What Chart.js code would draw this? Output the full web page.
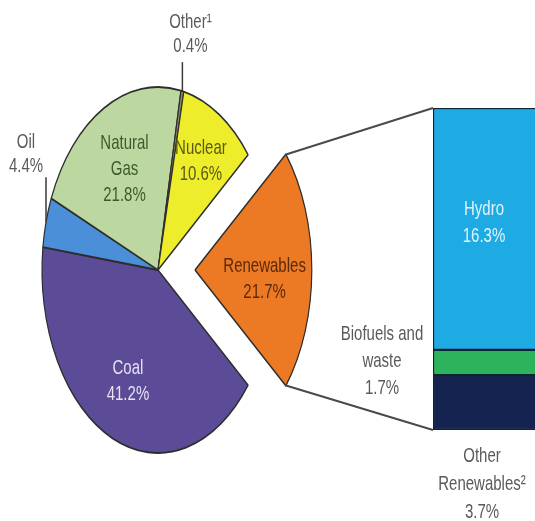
<!DOCTYPE html>
<html>
<head>
<meta charset="utf-8">
<script src="https://cdn.jsdelivr.net/npm/chart.js@4.4.1/dist/chart.umd.min.js"></script>
<style>
  html, body { margin: 0; padding: 0; background: #fff; overflow: hidden; }
  #wrap { position: relative; width: 535px; height: 521px; }
  #wrap canvas { position: absolute; left: 0; top: 0; }
</style>
</head>
<body>
<div id="wrap">
  <canvas id="barChart" width="535" height="521"></canvas>
  <canvas id="pieChart" width="535" height="521"></canvas>
</div>
<script>
  // pie slices, listed clockwise starting at the exploded one
  const sliceNames = [['Renewables'], ['Coal'], ['Oil'], ['Natural', 'Gas'], ['Other¹'], ['Nuclear']];
  const sliceValues = [21.7, 41.2, 4.4, 21.8, 0.4, 10.6];
  const sliceColors = ['#ec7a24', '#5c4b96', '#4b8fd8', '#bcd79f', '#8a8a60', '#eded2c'];
  const sliceTextColors = ['#5a2a0c', '#e6e2f4', '#5a5a5a', '#3d5a2c', '#5a5a5a', '#5a5a10'];

  // breakdown of renewables, bottom to top
  const renewNames = [['Other', 'Renewables²'], ['Biofuels and', 'waste'], ['Hydro']];
  const renewValues = [3.7, 1.7, 16.3];
  const renewColors = ['#14234f', '#2cb35c', '#1eaae2'];

  const STRETCH = 183 / 116;   // pie is drawn as a tall ellipse
  const TEXT_STRETCH = 1.4;    // text is tall and narrow too
  const FONT = '15px "Liberation Sans", Arial, sans-serif';
  const EXPLODE = 37;          // px the renewables slice is pulled out

  const pct = v => v.toFixed(1) + '%';

  function drawLines(ctx, lines, x, yc, color, lh) {
    const y0 = yc - (lines.length - 1) * lh / 2;
    lines.forEach((t, i) => {
      ctx.save();
      ctx.translate(x, y0 + i * lh);
      ctx.scale(1, TEXT_STRETCH);
      ctx.font = FONT;
      ctx.fillStyle = color;
      ctx.textAlign = 'center';
      ctx.textBaseline = 'middle';
      ctx.fillText(t, 0, 0);
      ctx.restore();
    });
  }

  function line(ctx, x1, y1, x2, y2, color, w) {
    ctx.save();
    ctx.strokeStyle = color;
    ctx.lineWidth = w;
    ctx.beginPath();
    ctx.moveTo(x1, y1);
    ctx.lineTo(x2, y2);
    ctx.stroke();
    ctx.restore();
  }

  // ---------- stacked bar on the right ----------
  const barLabels = {
    id: 'barLabels',
    afterDraw(chart) {
      const ctx = chart.ctx;
      const els = chart.data.datasets.map((d, i) => chart.getDatasetMeta(i).data[0]);
      const left = els[0].x - els[0].width / 2;
      // hydro inside the bar
      const h = els[2];
      drawLines(ctx, renewNames[2].concat(pct(renewValues[2])), h.x, (h.y + h.base) / 2 - 6, '#e2f3fc', 27);
      // biofuels to the left
      const b = els[1];
      drawLines(ctx, renewNames[1].concat(pct(renewValues[1])), left - 51, (b.y + b.base) / 2 - 1, '#5a5a5a', 27);
      // other renewables below
      const o = els[0];
      drawLines(ctx, renewNames[0].concat(pct(renewValues[0])), o.x - 2, o.base + 54, '#5a5a5a', 28);
    }
  };

  const barChart = new Chart(document.getElementById('barChart'), {
    type: 'bar',
    data: {
      labels: ['Renewables'],
      datasets: renewValues.map((v, i) => ({
        label: renewNames[i].join(' '),
        data: [v],
        backgroundColor: renewColors[i],
        borderColor: '#0c2430',
        borderWidth: { top: 1.5, left: 1.5, bottom: 1.5, right: 0 },
        borderSkipped: false,
        barPercentage: 1,
        categoryPercentage: 1
      }))
    },
    options: {
      responsive: false,
      animation: false,
      layout: { padding: { left: 433, top: 108, right: 0, bottom: 91 } },
      plugins: { legend: { display: false }, tooltip: { enabled: false } },
      scales: {
        x: { display: false, stacked: true },
        y: { display: false, stacked: true, min: 0, max: renewValues.reduce((a, b) => a + b, 0) }
      }
    },
    plugins: [barLabels]
  });

  // ---------- pie on the left ----------
  const total = sliceValues.reduce((a, b) => a + b, 0);
  const rotation = 90 - sliceValues[0] / total * 180;   // centre the exploded slice on the right
  const labelRadius = [0.6, 0.66, null, 0.62, null, 0.7];
  const labelNudge = [9, 0, 0, 0, 0, 0];
  const outside = { 2: { len: 45, dx: -20, gap: 23 }, 4: { len: 29, dx: 8, gap: 28 } };

  // ArcElement moves a slice by offset / 4
  const shift = arc => (arc.options.offset || 0) / 4;

  const ellipse = {
    id: 'ellipse',
    beforeDatasetsDraw(chart) {
      const cy = chart.getDatasetMeta(0).data[0].y;
      chart.ctx.save();
      chart.ctx.translate(0, cy);
      chart.ctx.scale(1, STRETCH);
      chart.ctx.translate(0, -cy);
    },
    afterDatasetsDraw(chart) {
      chart.ctx.restore();
    },
    afterDraw(chart) {
      const ctx = chart.ctx;
      const arcs = chart.getDatasetMeta(0).data;
      arcs.forEach((arc, i) => {
        const { x, y, startAngle, endAngle, outerRadius } =
          arc.getProps(['x', 'y', 'startAngle', 'endAngle', 'outerRadius'], true);
        const mid = (startAngle + endAngle) / 2;
        const off = shift(arc);
        const ox = x + Math.cos(mid) * off;
        const oy = y + Math.sin(mid) * off * STRETCH;
        const lines = sliceNames[i].concat(pct(sliceValues[i]));
        if (labelRadius[i] != null) {
          const f = labelRadius[i] * outerRadius;
          drawLines(ctx, lines, ox + Math.cos(mid) * f,
            oy + Math.sin(mid) * f * STRETCH + labelNudge[i], sliceTextColors[i], 26);
        } else {
          const o = outside[i];
          const ex = ox + Math.cos(mid) * outerRadius;
          const ey = oy + Math.sin(mid) * outerRadius * STRETCH;
          line(ctx, ex, ey, ex, ey - o.len, '#3a3a3a', 1.5);
          drawLines(ctx, lines, ex + o.dx, ey - o.len - o.gap, sliceTextColors[i], 24);
        }
      });

      // connectors from the exploded slice to the bar
      const ren = arcs[0];
      const mid = (ren.startAngle + ren.endAngle) / 2;
      const cx = ren.x + Math.cos(mid) * shift(ren);
      const r = ren.outerRadius;
      const bars = barChart.data.datasets.map((d, i) => barChart.getDatasetMeta(i).data[0]);
      const top = bars[bars.length - 1];
      const bottom = bars[0];
      const left = top.x - top.width / 2;
      line(ctx, cx + Math.cos(ren.startAngle) * r, ren.y + Math.sin(ren.startAngle) * r * STRETCH,
        left, top.y, '#4a4a4a', 2);
      line(ctx, cx + Math.cos(ren.endAngle) * r, ren.y + Math.sin(ren.endAngle) * r * STRETCH,
        left, bottom.base, '#4a4a4a', 2);
    }
  };

  new Chart(document.getElementById('pieChart'), {
    type: 'pie',
    data: {
      labels: sliceNames.map(n => n.join(' ')),
      datasets: [{
        data: sliceValues,
        backgroundColor: sliceColors,
        borderColor: '#2e2e2e',
        borderWidth: 1.2,
        offset: sliceValues.map((v, i) => i === 0 ? EXPLODE * 4 : 0),
        radius: 116
      }]
    },
    options: {
      responsive: false,
      animation: false,
      rotation: rotation,
      layout: { padding: { left: 0, right: 219, top: 19, bottom: 0 } },
      plugins: { legend: { display: false }, tooltip: { enabled: false } }
    },
    plugins: [ellipse]
  });
</script>
</body>
</html>
